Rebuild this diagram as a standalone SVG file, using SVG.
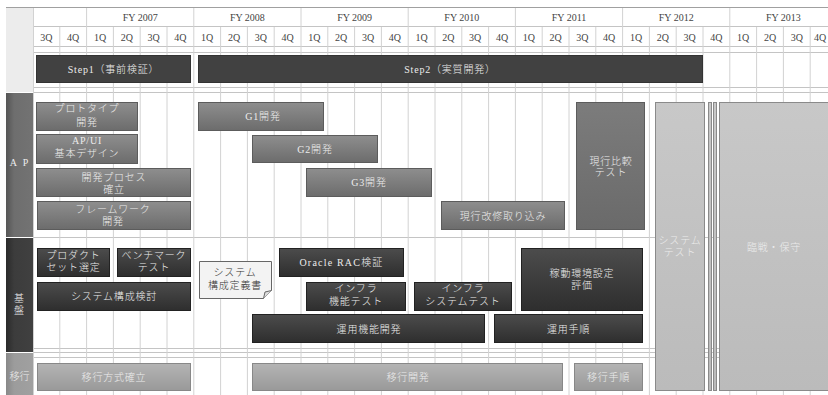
<svg xmlns="http://www.w3.org/2000/svg" width="828" height="395" viewBox="0 0 828 395">
<defs>
<linearGradient id="gAp" x1="0" y1="0" x2="0" y2="1"><stop offset="0" stop-color="#8e8e8e"/><stop offset="1" stop-color="#6c6c6c"/></linearGradient>
<linearGradient id="gCmp" x1="0" y1="0" x2="0" y2="1"><stop offset="0" stop-color="#7c7c7c"/><stop offset="1" stop-color="#6a6a6a"/></linearGradient>
<linearGradient id="gKiban" x1="0" y1="0" x2="0" y2="1"><stop offset="0" stop-color="#4c4c4c"/><stop offset="1" stop-color="#2e2e2e"/></linearGradient>
<linearGradient id="gIko" x1="0" y1="0" x2="0" y2="1"><stop offset="0" stop-color="#b4b4b4"/><stop offset="1" stop-color="#999"/></linearGradient>
<linearGradient id="gLight" x1="0" y1="0" x2="0" y2="1"><stop offset="0" stop-color="#c8c8c8"/><stop offset="1" stop-color="#bbbbbb"/></linearGradient>
<linearGradient id="gLabAp" x1="0" y1="0" x2="1" y2="0"><stop offset="0" stop-color="#555"/><stop offset="0.3" stop-color="#6e6e6e"/><stop offset="1" stop-color="#737373"/></linearGradient>
<linearGradient id="gLabKiban" x1="0" y1="0" x2="1" y2="0"><stop offset="0" stop-color="#2a2a2a"/><stop offset="0.3" stop-color="#3c3c3c"/><stop offset="1" stop-color="#404040"/></linearGradient>
<linearGradient id="gLabIko" x1="0" y1="0" x2="1" y2="0"><stop offset="0" stop-color="#888"/><stop offset="0.3" stop-color="#9c9c9c"/><stop offset="1" stop-color="#a0a0a0"/></linearGradient>
</defs>
<style>
text{font-family:"Liberation Serif","Noto Sans CJK JP",serif;font-size:10px;text-anchor:middle;font-weight:300;}
.hd{fill:#444;font-size:10px;}
.w{fill:#ececec;letter-spacing:0.8px;}
.dk{fill:#333;letter-spacing:0.8px;}
.grid{stroke:#d2d2d2;stroke-width:1;fill:none;}
.gridd{stroke:#c4c4c4;stroke-width:1;fill:none;}
.step{fill:#414141;stroke:#333;}
.ap{fill:url(#gAp);stroke:#5c5c5c;}
.cmp{fill:url(#gCmp);stroke:#5c5c5c;}
.kb{fill:url(#gKiban);stroke:#222;}
.ik{fill:url(#gIko);stroke:#888;}
.lt{fill:url(#gLight);stroke:#8a8a8a;}
.doc{fill:#f3f3f3;stroke:#666;}
</style>
<rect x="0" y="0" width="828" height="395" fill="#fff"/>
<!-- left label column -->
<g id="labels">
<rect x="6" y="8" width="27" height="84" fill="#ececec"/>
<g id="lab-ap"><rect x="6" y="93" width="27" height="144" fill="url(#gLabAp)"/><text x="20" y="165.5" class="w" style="letter-spacing:2px">A P</text></g>
<g id="lab-kiban"><rect x="6" y="238" width="27" height="114" fill="url(#gLabKiban)"/><text x="19.5" y="301.5" class="w">基</text><text x="19.5" y="314" class="w">盤</text></g>
<g id="lab-iko"><rect x="6" y="353" width="27" height="42" fill="url(#gLabIko)"/><text x="19.5" y="380" class="w" style="letter-spacing:0">移行</text></g>
</g>
<!-- grid -->
<g id="grid">
<line x1="6" y1="7.5" x2="828" y2="7.5" stroke="#a0a0a0"/>
<path class="gridd" d="M33 26.5H828M33 46.5H828M33 52.5H828M33 87.5H828M33 92.5H828M33 237.5H828M33 348.5H828M33 352.5H828M33 357.5H828"/>
<path class="grid" d="M33.5 8V395M86.6 8V395M193.8 8V395M301 8V395M408.2 8V395M515.4 8V395M622.6 8V395M729.8 8V395"/>
<path class="grid" d="M59.8 27V395M113.4 27V395M140.2 27V395M167 27V395M220.6 27V395M247.4 27V395M274.2 27V395M327.8 27V395M354.6 27V395M381.4 27V395M435 27V395M461.8 27V395M488.6 27V395M542.2 27V395M569 27V395M595.8 27V395M649.4 27V395M676.2 27V395M703 27V395M756.6 27V395M783.4 27V395M810.2 27V395"/>
</g>
<!-- header -->
<g id="header">
<text class="hd" x="140.2" y="20.5">FY 2007</text>
<text class="hd" x="247.4" y="20.5">FY 2008</text>
<text class="hd" x="354.6" y="20.5">FY 2009</text>
<text class="hd" x="461.8" y="20.5">FY 2010</text>
<text class="hd" x="569" y="20.5">FY 2011</text>
<text class="hd" x="676.2" y="20.5">FY 2012</text>
<text class="hd" x="783.4" y="20.5">FY 2013</text>
<text class="hd" x="46.4" y="40.5">3Q</text><text class="hd" x="73.2" y="40.5">4Q</text>
<text class="hd" x="100" y="40.5">1Q</text><text class="hd" x="126.8" y="40.5">2Q</text><text class="hd" x="153.6" y="40.5">3Q</text><text class="hd" x="180.4" y="40.5">4Q</text>
<text class="hd" x="207.2" y="40.5">1Q</text><text class="hd" x="234" y="40.5">2Q</text><text class="hd" x="260.8" y="40.5">3Q</text><text class="hd" x="287.6" y="40.5">4Q</text>
<text class="hd" x="314.4" y="40.5">1Q</text><text class="hd" x="341.2" y="40.5">2Q</text><text class="hd" x="368" y="40.5">3Q</text><text class="hd" x="394.8" y="40.5">4Q</text>
<text class="hd" x="421.6" y="40.5">1Q</text><text class="hd" x="448.4" y="40.5">2Q</text><text class="hd" x="475.2" y="40.5">3Q</text><text class="hd" x="502" y="40.5">4Q</text>
<text class="hd" x="528.8" y="40.5">1Q</text><text class="hd" x="555.6" y="40.5">2Q</text><text class="hd" x="582.4" y="40.5">3Q</text><text class="hd" x="609.2" y="40.5">4Q</text>
<text class="hd" x="636" y="40.5">1Q</text><text class="hd" x="662.8" y="40.5">2Q</text><text class="hd" x="689.6" y="40.5">3Q</text><text class="hd" x="716.4" y="40.5">4Q</text>
<text class="hd" x="743.2" y="40.5">1Q</text><text class="hd" x="770" y="40.5">2Q</text><text class="hd" x="796.8" y="40.5">3Q</text><text class="hd" x="820" y="40.5">4Q</text>
</g>
<!-- steps -->
<g id="step1"><rect class="step" x="36.5" y="55.5" width="154" height="27"/><text class="w" x="113.5" y="72.5">Step1（事前検証）</text></g>
<g id="step2"><rect class="step" x="198.5" y="55.5" width="504" height="27"/><text class="w" x="450" y="72.5">Step2（実質開発）</text></g>
<!-- AP -->
<g id="ap-proto"><rect class="ap" x="36.5" y="102.5" width="101" height="28"/><text class="w" x="87" y="111.5">プロトタイプ</text><text class="w" x="87" y="125.5">開発</text></g>
<g id="ap-ui"><rect class="ap" x="36.5" y="134.5" width="101" height="29"/><text class="w" x="87" y="144">AP/UI</text><text class="w" x="87" y="157">基本デザイン</text></g>
<g id="ap-process"><rect class="ap" x="36.5" y="168.5" width="154" height="28"/><text class="w" x="114" y="180.5">開発プロセス</text><text class="w" x="114" y="192.5">確立</text></g>
<g id="ap-framework"><rect class="ap" x="37.5" y="201.5" width="153" height="28"/><text class="w" x="113" y="212.5">フレームワーク</text><text class="w" x="113" y="224.5">開発</text></g>
<g id="ap-g1"><rect class="ap" x="198.5" y="102.5" width="125" height="28"/><text class="w" x="263" y="120">G1開発</text></g>
<g id="ap-g2"><rect class="ap" x="252.5" y="135.5" width="125" height="27"/><text class="w" x="315" y="152.5">G2開発</text></g>
<g id="ap-g3"><rect class="ap" x="306.5" y="168.5" width="125" height="28"/><text class="w" x="369" y="186">G3開発</text></g>
<g id="ap-kaishu"><rect class="ap" x="441.5" y="201.5" width="123" height="28"/><text class="w" x="503" y="219.5">現行改修取り込み</text></g>
<g id="ap-hikaku"><rect class="cmp" x="576.5" y="102.5" width="68" height="127"/><text class="w" x="611" y="164.5">現行比較</text><text class="w" x="611" y="176">テスト</text></g>
<!-- system test / maintenance -->
<g id="systest"><rect class="lt" x="655.5" y="102.5" width="49" height="288"/><text class="w" x="680" y="243.5">システム</text><text class="w" x="680" y="255.5">テスト</text></g>
<g id="break"><rect class="lt" x="708.5" y="102.5" width="3" height="288"/><rect class="lt" x="713.5" y="102.5" width="3" height="288"/></g>
<g id="rinsen"><rect class="lt" x="719.5" y="102.5" width="115" height="288"/><text class="w" x="774" y="250.5">臨戦・保守</text></g>
<!-- 基盤 -->
<g id="kb-product"><rect class="kb" x="37.5" y="248.5" width="72" height="28"/><text class="w" x="73.5" y="259">プロダクト</text><text class="w" x="73.5" y="271">セット選定</text></g>
<g id="kb-bench"><rect class="kb" x="117.5" y="248.5" width="73" height="28"/><text class="w" x="154" y="259">ベンチマーク</text><text class="w" x="154" y="271">テスト</text></g>
<g id="kb-kousei"><rect class="kb" x="37.5" y="282.5" width="153" height="28"/><text class="w" x="114" y="300">システム構成検討</text></g>
<g id="kb-doc"><path class="doc" d="M199.5 261.5H271.5V290.5L263.5 298.5H199.5Z"/><path d="M263.5 298.5L265 292L271.5 290.5" fill="#ddd" stroke="#666"/><text class="dk" x="235" y="276">システム</text><text class="dk" x="235" y="289">構成定義書</text></g>
<g id="kb-oracle"><rect class="kb" x="279.5" y="248.5" width="124" height="28"/><text class="w" x="341.5" y="266" style="letter-spacing:1.2px">Oracle RAC検証</text></g>
<g id="kb-infra1"><rect class="kb" x="306.5" y="282.5" width="99" height="28"/><text class="w" x="356" y="292">インフラ</text><text class="w" x="356" y="304.5">機能テスト</text></g>
<g id="kb-infra2"><rect class="kb" x="414.5" y="282.5" width="97" height="28"/><text class="w" x="463" y="292">インフラ</text><text class="w" x="463" y="304.5">システムテスト</text></g>
<g id="kb-kadou"><rect class="kb" x="521.5" y="248.5" width="121" height="62"/><text class="w" x="582" y="276.5">稼動環境設定</text><text class="w" x="582" y="288.5">評価</text></g>
<g id="kb-unyou"><rect class="kb" x="252.5" y="314.5" width="232" height="28"/><text class="w" x="369" y="332.5">運用機能開発</text></g>
<g id="kb-tejun"><rect class="kb" x="494.5" y="314.5" width="148" height="28"/><text class="w" x="568.5" y="332.5">運用手順</text></g>
<!-- 移行 -->
<g id="ik-houshiki"><rect class="ik" x="37.5" y="363.5" width="153" height="27"/><text class="w" x="114" y="380.5">移行方式確立</text></g>
<g id="ik-kaihatsu"><rect class="ik" x="252.5" y="363.5" width="310" height="27"/><text class="w" x="408" y="380.5">移行開発</text></g>
<g id="ik-tejun"><rect class="ik" x="574.5" y="363.5" width="68" height="27"/><text class="w" x="608.5" y="380.5">移行手順</text></g>
</svg>
